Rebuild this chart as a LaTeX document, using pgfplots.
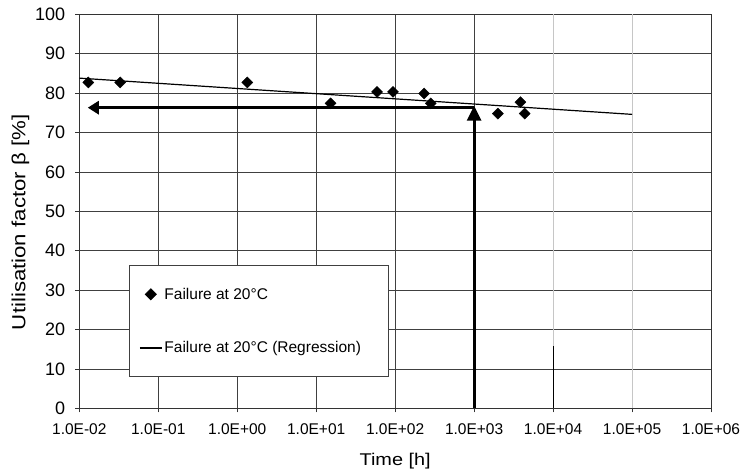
\documentclass[border=0pt]{standalone}
\usepackage{pgfplots}
\pgfplotsset{compat=1.18}
\usepackage{fontspec}
\setmainfont{Liberation Sans}
\newfontfamily\ylabfont[FakeStretch=1.17]{Liberation Sans}
\newfontfamily\xlabfont[FakeStretch=1.17]{Liberation Sans}
\usetikzlibrary{arrows.meta}
\begin{document}
\begin{tikzpicture}
\begin{axis}[
  name=ax, at={(0,0)}, anchor=south west,
  scale only axis, width=631.7pt, height=394pt,
  xmode=log, xmin=1e-2, xmax=1e6, ymin=0, ymax=100,
  xtick={1e-2,1e-1,1,10,100,1000,1e4,1e5,1e6},
  xticklabels={1.0E-02,1.0E-01,1.0E+00,1.0E+01,1.0E+02,1.0E+03,1.0E+04,1.0E+05,1.0E+06},
  xminorticks=false,
  ytick={0,10,...,100},
  /pgf/number format/assume math mode=true,
  grid=major, major grid style={black!75, line width=0.75pt},
  axis line style={black!80, line width=0.8pt},
  tick align=outside, major tick length=4pt, tick style={black!80, line width=0.7pt},
  xtick pos=bottom, ytick pos=left,
  xticklabel style={font=\fontsize{15.5}{16}\selectfont, yshift=-8pt},
  yticklabel style={font=\fontsize{18}{18}\selectfont, xshift=-6.6pt},
  xlabel={\xlabfont\fontsize{17}{17}\selectfont Time [h]},
  ylabel={\ylabfont\fontsize{19}{19}\selectfont Utilisation factor β [\%]},
  xlabel style={at={([yshift=-56.7pt]axis description cs:0.5,0)}, anchor=base},
  ylabel style={at={([xshift=-54pt]axis description cs:0,0.472)}, anchor=base},
  legend image code/.code={\draw[mark repeat=2,mark phase=2,#1] plot coordinates {(0pt,0pt) (11pt,0pt) (22pt,0pt)};},
  legend cell align=left,
  legend style={at={(axis description cs:0.0792,0.3637)}, anchor=north west,
    draw=black!75, line width=0.8pt, fill=white, inner xsep=9.5pt, inner ysep=20.5pt, row sep=37pt,
    font=\fontsize{15.5}{16}\selectfont},
]
\addplot[gray!45, line width=0.8pt, forget plot] coordinates {(1e4,0) (1e4,100)};
\addplot[gray!45, line width=0.8pt, forget plot] coordinates {(1e5,0) (1e5,100)};
\addplot[only marks, mark=square*, mark size=3.9pt, mark options={rotate=45}, black] coordinates {
  (0.013,82.7) (0.033,82.7) (1.34,82.7) (15.2,77.4) (59,80.3) (94,80.3)
  (233,79.9) (282,77.4) (2000,74.8) (3860,77.7) (4370,74.8)};
\addlegendentry{Failure at 20°C}
\addplot[black, line width=1.2pt] coordinates {(0.01,83.8) (1e5,74.6)};
\addlegendentry{Failure at 20°C (Regression)\rule{16pt}{0pt}}
\addplot[black, line width=2.8pt, -{Triangle[length=11pt,width=13pt]}, forget plot] coordinates {(1000,76.3) (0.0128,76.3)};
\addplot[black, line width=2.8pt, -{Triangle[length=15pt,width=14pt]}, forget plot] coordinates {(1000,0) (1000,76.8)};
\addplot[black, line width=0.8pt, forget plot] coordinates {(1e4,0) (1e4,15.8)};
\end{axis}
\pgfresetboundingbox
\path[use as bounding box] ([shift={(-79.3pt,-60.7pt)}]ax.south west) rectangle ([shift={(35pt,14.3pt)}]ax.north east);
\end{tikzpicture}
\end{document}
